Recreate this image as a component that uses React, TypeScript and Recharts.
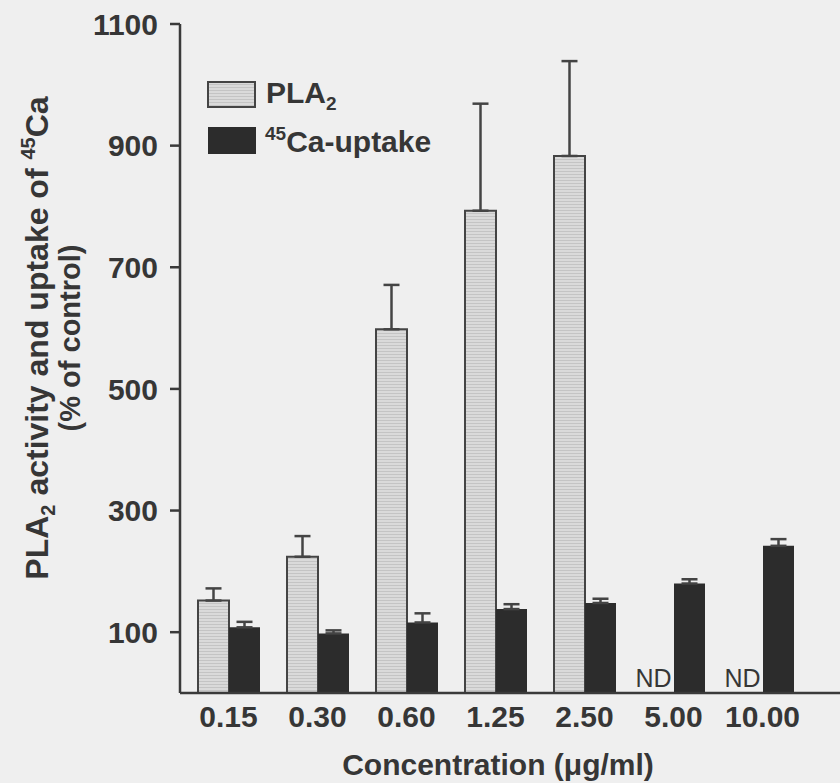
import { BarChart, Bar, XAxis, YAxis, ErrorBar, LabelList } from "recharts";

const concentrations = ["0.15", "0.30", "0.60", "1.25", "2.50", "5.00", "10.00"];
const pla2Values = [152, 224, 598, 793, 883, 0, 0];
const pla2Errors = [20, 34, 73, 176, 156, 0, 0];
const pla2Notes = ["", "", "", "", "", "ND", "ND"];
const caValues = [108, 98, 116, 138, 148, 180, 242];
const caErrors = [9, 5, 15, 8, 7, 7, 11];
const yTicks = [100, 300, 500, 700, 900, 1100];

const data = concentrations.map((c, i) => ({
  conc: c,
  pla2: pla2Values[i],
  pla2Err: [0, pla2Errors[i]],
  nd: pla2Notes[i],
  ca: caValues[i],
  caErr: [0, caErrors[i]],
}));

const INK = "#363636";
const FONT = "Arial, 'Liberation Sans', Helvetica, sans-serif";

function XTick(props: any) {
  const { x, y, payload } = props;
  return (
    <text x={x} y={y + 34} textAnchor="middle" fontSize={30} fontWeight="bold" fill={INK} fontFamily={FONT}>
      {payload.value}
    </text>
  );
}

// ND sits where the missing PLA2 bar would be, i.e. one bar-width left of the Ca bar
function NdLabel(props: any) {
  const { x, y, width, height, value } = props;
  if (!value) return null;
  return (
    <text x={x - width / 2 - 5} y={y + height - 6} textAnchor="middle" fontSize={25} fill={INK} fontFamily={FONT}>
      {value}
    </text>
  );
}

function YTitle() {
  return (
    <g fontFamily={FONT} fontWeight="bold" fill={INK}>
      <text transform="translate(48,338) rotate(-90)" textAnchor="middle" fontSize={32}>
        PLA<tspan fontSize={20} dy={7}>2</tspan>
        <tspan dy={-7}> activity and uptake of </tspan>
        <tspan fontSize={20} dy={-13}>45</tspan>
        <tspan dy={13}>Ca</tspan>
      </text>
      <text transform="translate(80,338) rotate(-90)" textAnchor="middle" fontSize={29}>
        (% of control)
      </text>
    </g>
  );
}

function XTitle() {
  return (
    <text x={498} y={775} textAnchor="middle" fontSize={30} fontWeight="bold" fill={INK} fontFamily={FONT}>
      Concentration (μg/ml)
    </text>
  );
}

function LegendBox() {
  return (
    <g fontFamily={FONT} fontWeight="bold" fill={INK}>
      <rect x={208} y={82} width={47} height={25} fill="url(#hatch)" stroke="#444" strokeWidth={2} />
      <text x={266} y={103} fontSize={30}>
        PLA<tspan fontSize={19} dy={7}>2</tspan>
      </text>
      <rect x={208} y={127} width={48} height={27} fill="#2c2c2c" />
      <text x={265} y={152} fontSize={30}>
        <tspan fontSize={19} dy={-12}>45</tspan>
        <tspan dy={12}>Ca-uptake</tspan>
      </text>
    </g>
  );
}

export default function App() {
  return (
    <div style={{ position: "absolute", left: 0, top: 0, width: 840, height: 783, background: "#efefef" }}>
      <BarChart
        width={840}
        height={783}
        data={data}
        margin={{ top: 24, right: 0, bottom: 0, left: 0 }}
        barGap={0}
        barSize={31}
      >
        <defs>
          <pattern id="hatch" width="3" height="3" patternUnits="userSpaceOnUse">
            <rect width="3" height="3" fill="#dadada" />
            <rect width="3" height="1" fill="#c4c4c4" />
          </pattern>
        </defs>
        <XAxis
          dataKey="conc"
          height={90}
          padding={{ left: 4, right: 33 }}
          axisLine={{ stroke: "#3a3a3a", strokeWidth: 2.5 }}
          tickLine={false}
          tickSize={0}
          tickMargin={0}
          tick={<XTick />}
          interval={0}
        />
        <YAxis
          width={180}
          domain={[0, 1100]}
          ticks={yTicks}
          allowDataOverflow
          axisLine={{ stroke: "#3a3a3a", strokeWidth: 2.5 }}
          tickLine={{ stroke: "#3a3a3a", strokeWidth: 2.5 }}
          tickSize={10}
          tickMargin={12}
          tick={{ fontSize: 30, fontWeight: "bold", fill: INK, fontFamily: FONT }}
        />
        <Bar dataKey="pla2" fill="url(#hatch)" stroke="#444" strokeWidth={2} isAnimationActive={false}>
          <ErrorBar dataKey="pla2Err" width={8} stroke="#444" strokeWidth={2.5} direction="y" />
        </Bar>
        <Bar dataKey="ca" fill="#2c2c2c" isAnimationActive={false}>
          <ErrorBar dataKey="caErr" width={8} stroke="#444" strokeWidth={2.5} direction="y" />
          <LabelList dataKey="nd" content={<NdLabel />} />
        </Bar>
        <LegendBox />
        <YTitle />
        <XTitle />
      </BarChart>
    </div>
  );
}
